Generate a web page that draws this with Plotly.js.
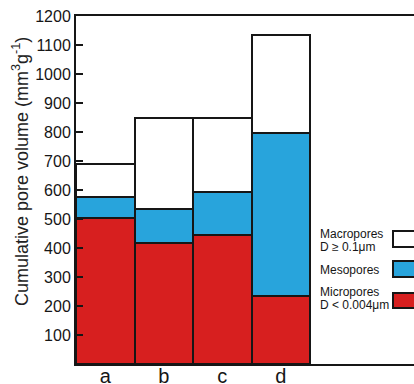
<!DOCTYPE html>
<html>
<head>
<meta charset="utf-8">
<script src="https://cdn.plot.ly/plotly-3.0.1.min.js"></script>
<style>
  html, body { margin: 0; padding: 0; background: #fff; }
  #chart { width: 414px; height: 384px; }
</style>
</head>
<body>
<div id="chart"></div>
<script>
// Samples and the volume of each pore class (mm3/g), stacked bottom to top
const samples = ['a', 'b', 'c', 'd'];
const micropores = [502, 418, 446, 236];
const mesopores = [75, 118, 146, 559];
const macropores = [112, 314, 258, 340];

const yTicks = [100, 200, 300, 400, 500, 600, 700, 800, 900, 1000, 1100, 1200];

const RED = '#d71f1f';
const BLUE = '#28a4dc';
const INK = '#161616';

const W = 414, H = 384;
const M = { l: 76, r: 0, t: 16, b: 20 };
const plotW = W - M.l - M.r, plotH = H - M.t - M.b;
const px = x => (x - M.l) / plotW;
const py = y => (H - M.b - y) / plotH;

const sans = '"Liberation Sans", Arial, Helvetica, sans-serif';

function series(name, values, color) {
  return {
    type: 'bar', name: name, x: samples, y: values,
    marker: { color: color, line: { color: INK, width: 2 } },
    hoverinfo: 'skip', showlegend: false
  };
}

const data = [
  series('Micropores', micropores, RED),
  series('Mesopores', mesopores, BLUE),
  series('Macropores', macropores, '#ffffff')
];

// Legend: labels on the left, swatches on the right
const legendRows = [
  { lines: [['Macropores', 233.5], ['D \u2265 0.1\u03bcm', 246.5]], box: [231, 247], color: '#ffffff' },
  { lines: [['Mesopores', 270]], box: [261, 277], color: BLUE },
  { lines: [['Micropores', 291.5], ['D < 0.004\u03bcm', 304.5]], box: [293, 308], color: RED }
];

const annotations = [];
const shapes = [];
legendRows.forEach(row => {
  row.lines.forEach(([txt, y]) => {
    annotations.push({
      xref: 'paper', yref: 'paper', x: px(318), y: py(y),
      xanchor: 'left', yanchor: 'middle', showarrow: false,
      text: txt, font: { family: sans, size: 12, color: INK }
    });
  });
  shapes.push({
    type: 'rect', xref: 'paper', yref: 'paper',
    x0: px(393), x1: px(430), y0: py(row.box[1]), y1: py(row.box[0]),
    fillcolor: row.color, line: { color: INK, width: 2 }
  });
});

annotations.push({
  xref: 'paper', yref: 'paper', x: px(20), y: py(172),
  xanchor: 'center', yanchor: 'middle', textangle: -90, showarrow: false,
  text: 'Cumulative pore volume (mm<sup>3</sup>g<sup>-1</sup>)',
  font: { family: sans, size: 18, color: '#222' }
});

const layout = {
  width: W, height: H,
  margin: M,
  paper_bgcolor: '#ffffff', plot_bgcolor: '#ffffff',
  barmode: 'stack', bargap: 0,
  xaxis: {
    range: [-0.5, -0.5 + plotW / 58.5],
    showgrid: false, zeroline: false,
    showline: true, linecolor: INK, linewidth: 2, mirror: true,
    ticks: '', tickfont: { family: sans, size: 20, color: INK },
    ticklabelstandoff: -7
  },
  yaxis: {
    range: [0, 1200],
    tickvals: yTicks, ticktext: yTicks.map(String),
    showgrid: false, zeroline: false,
    showline: true, linecolor: INK, linewidth: 2,
    ticks: 'inside', ticklen: 7, tickwidth: 2, tickcolor: INK,
    tickfont: { family: sans, size: 16, color: INK }
  },
  annotations: annotations,
  shapes: shapes
};

Plotly.newPlot('chart', data, layout, { displayModeBar: false, staticPlot: true });
</script>
</body>
</html>
